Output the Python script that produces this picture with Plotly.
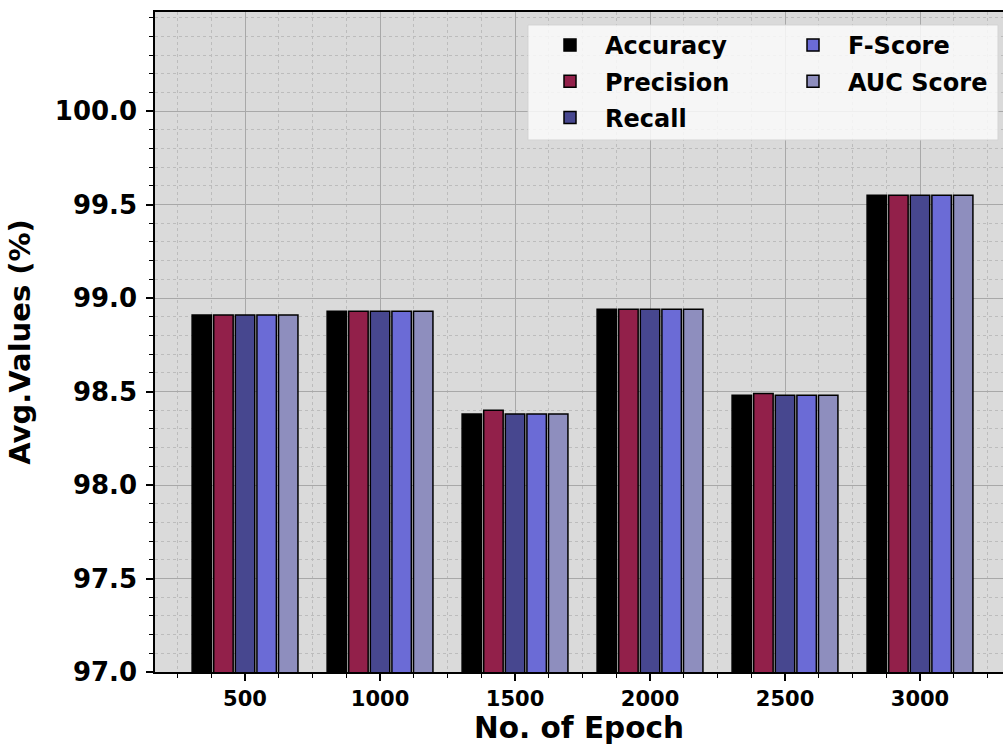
import plotly.graph_objects as go

epochs = ["500", "1000", "1500", "2000", "2500", "3000"]
accuracy = [98.91, 98.93, 98.38, 98.94, 98.48, 99.55]
precision = [98.91, 98.93, 98.40, 98.94, 98.49, 99.55]
recall = [98.91, 98.93, 98.38, 98.94, 98.48, 99.55]
fscore = [98.91, 98.93, 98.38, 98.94, 98.48, 99.55]
auc = [98.91, 98.93, 98.38, 98.94, 98.48, 99.55]
yticks = [97.0, 97.5, 98.0, 98.5, 99.0, 99.5, 100.0]

series = [
    ("Accuracy", accuracy, "#000000", "legend"),
    ("Precision", precision, "#92204a", "legend"),
    ("Recall", recall, "#47478f", "legend"),
    ("F-Score", fscore, "#6b6bd6", "legend2"),
    ("AUC Score", auc, "#8e8ebe", "legend2"),
]

FONT = "DejaVu Sans"
W, H = 1003, 747
ML, MR, MT, MB = 155, 0, 12, 75
pw, ph = W - ML - MR, H - MT - MB

def px2x(p):
    return (p - ML) / pw

def px2y(p):
    return (H - MB - p) / ph

xpos = list(range(len(epochs)))

fig = go.Figure()
for name, vals, col, lg in series:
    fig.add_trace(go.Bar(
        x=xpos, y=vals, name=name, legend=lg, legendgroup=name,
        marker=dict(color=col, line=dict(color="black", width=1.5)),
    ))

# legend background box
x0, x1 = px2x(528), px2x(998)
y0, y1 = px2y(140), px2y(25)
fig.add_shape(type="rect", xref="paper", yref="paper", x0=x0, x1=x1, y0=y0, y1=y1,
              fillcolor="rgba(250,250,250,0.85)", line=dict(color="rgba(210,210,210,0.9)", width=1),
              layer="above")

legfont = dict(family=FONT, size=24, color="black", weight="bold")
fig.update_layout(
    width=W, height=H,
    margin=dict(l=ML, r=MR, t=MT, b=MB),
    plot_bgcolor="#dadada", paper_bgcolor="white",
    barmode="group", bargap=0.2, bargroupgap=0.1,
    font=dict(family=FONT, color="black"),
    legend=dict(x=px2x(535), y=px2y(23), xanchor="left", yanchor="top",
                bgcolor="rgba(0,0,0,0)", font=legfont, itemwidth=60,
                tracegroupgap=2, traceorder="grouped"),
    legend2=dict(x=px2x(778), y=px2y(23), xanchor="left", yanchor="top",
                 bgcolor="rgba(0,0,0,0)", font=legfont, itemwidth=60,
                 tracegroupgap=2, traceorder="grouped"),
    xaxis=dict(
        range=[-0.667, 5 + (1003 - 920) / 135],
        tickmode="array", tickvals=xpos, ticktext=epochs,
        tickfont=dict(family=FONT, size=21, weight="bold"),
        ticks="outside", ticklen=7, tickwidth=1.5, tickcolor="black",
        showline=True, linecolor="black", linewidth=1.5, mirror=True,
        showgrid=True, gridcolor="#a8a8a8", gridwidth=1,
        minor=dict(dtick=0.25, tick0=0, ticks="outside", ticklen=4, tickwidth=1,
                   tickcolor="black", showgrid=True, gridcolor="#bcbcbc",
                   griddash="dot", gridwidth=1),
        zeroline=False,
        title=dict(text="No. of Epoch", font=dict(family=FONT, size=29.5, weight="bold"), standoff=7),
    ),
    yaxis=dict(
        range=[97.0, 100.53],
        tickmode="array", tickvals=yticks, tickformat=".1f",
        tickfont=dict(family=FONT, size=26, weight="bold"),
        ticks="outside", ticklen=7, tickwidth=1.5, tickcolor="black",
        ticklabelstandoff=4,
        showline=True, linecolor="black", linewidth=1.5, mirror=False,
        showgrid=True, gridcolor="#a8a8a8", gridwidth=1,
        minor=dict(dtick=0.1, tick0=97.0, ticks="outside", ticklen=4, tickwidth=1,
                   tickcolor="black", showgrid=True, gridcolor="#bcbcbc",
                   griddash="dot", gridwidth=1),
        zeroline=False,
        title=dict(text="Avg.Values (%)", font=dict(family=FONT, size=29, weight="bold"), standoff=16),
    ),
)

fig.write_html("out.html")
